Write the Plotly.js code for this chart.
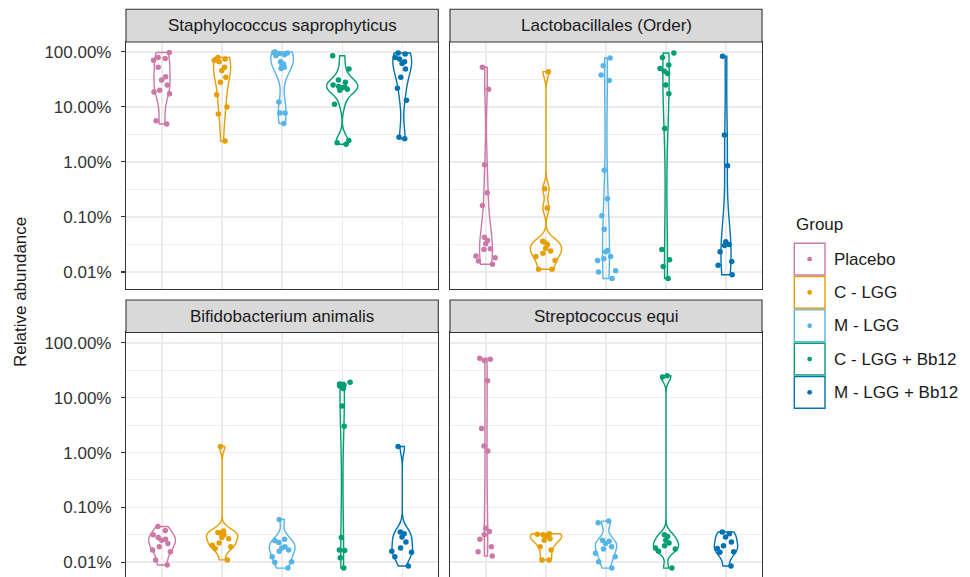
<!DOCTYPE html>
<html><head><meta charset="utf-8">
<script src="https://cdn.plot.ly/plotly-3.0.1.min.js"></script>
<style>html,body{margin:0;padding:0;overflow:hidden;background:#fff}</style>
</head><body><div id="chart" style="width:970px;height:580px"></div>
<script>
// ---------- categories / labels ----------
const groups = ['Placebo', 'C - LGG', 'M - LGG', 'C - LGG + Bb12', 'M - LGG + Bb12'];
const groupColors = ['#CC79A7', '#E69F00', '#56B4E9', '#009E73', '#0072B2'];
const facetTitles = ['Staphylococcus saprophyticus', 'Lactobacillales (Order)', 'Bifidobacterium animalis', 'Streptococcus equi'];
const yTickPercent = [0.01, 0.1, 1, 10, 100];
const yTickLabels = ['0.01%', '0.10%', '1.00%', '10.00%', '100.00%'];

// ---------- relative abundance (%) ----------
// Staphylococcus saprophyticus
const staphPlacebo = [97.7, 79.4, 75.9, 70.8, 52.5, 35.5, 30.9, 25.1, 20.0, 18.6, 17.4, 5.62, 4.90];
const staphCLGG = [79.4, 74.1, 70.8, 66.1, 52.5, 45.7, 34.7, 28.2, 16.6, 10.0, 7.41, 2.40];
const staphMLGG = [100, 97.7, 95.5, 93.3, 89.1, 85.1, 66.1, 60.3, 56.2, 52.5, 50.1, 12.3, 7.76, 7.76, 5.01];
const staphCLGGBb12 = [85.1, 49.0, 30.9, 28.2, 25.1, 23.4, 22.9, 22.4, 20.9, 20.0, 11.2, 2.45, 2.24, 2.09];
const staphMLGGBb12 = [95.5, 91.2, 79.4, 74.1, 66.1, 61.7, 49.0, 34.7, 21.9, 13.2, 2.82, 2.63];
// Lactobacillales (Order)
const lactoPlacebo = [52.5, 20.9, 0.89, 0.275, 0.162, 0.0427, 0.0372, 0.0324, 0.0263, 0.0257, 0.0195, 0.0182, 0.0158, 0.0138];
const lactoCLGG = [43.7, 0.324, 0.145, 0.0363, 0.0347, 0.0316, 0.0269, 0.024, 0.0219, 0.0191, 0.0162, 0.0112, 0.0112];
const lactoMLGG = [77.6, 56.2, 38.0, 30.2, 0.708, 0.214, 0.105, 0.060, 0.0245, 0.0234, 0.0191, 0.0174, 0.0162, 0.0105, 0.0100, 0.0076];
const lactoCLGGBb12 = [95.5, 79.4, 57.5, 50.1, 44.7, 40.7, 25.1, 17.4, 4.07, 0.0257, 0.0166, 0.0126, 0.0076];
const lactoMLGGBb12 = [83.2, 3.09, 0.851, 0.0355, 0.0316, 0.0302, 0.0234, 0.0155, 0.0132, 0.0089];
// Bifidobacterium animalis
const bifidoPlacebo = [0.0447, 0.038, 0.0316, 0.0282, 0.0263, 0.0251, 0.0219, 0.0191, 0.0166, 0.0155, 0.011, 0.0089];
const bifidoCLGG = [1.29, 0.0372, 0.0347, 0.0339, 0.0316, 0.0282, 0.0269, 0.0224, 0.0204, 0.0191, 0.0178, 0.011];
const bifidoMLGG = [0.0603, 0.0263, 0.0245, 0.0229, 0.0191, 0.0182, 0.0166, 0.0158, 0.0126, 0.0102, 0.01, 0.0078];
const bifidoCLGGBb12 = [19.1, 17.8, 17.0, 16.6, 15.8, 14.8, 7.08, 3.02, 0.0282, 0.0166, 0.0164, 0.012, 0.0078];
const bifidoMLGGBb12 = [1.29, 0.0355, 0.0331, 0.0288, 0.0234, 0.0182, 0.0158, 0.0151, 0.0126, 0.0085];
// Streptococcus equi
const strepPlacebo = [52.5, 50.1, 47.9, 20.4, 2.75, 1.32, 1.07, 0.0417, 0.0363, 0.0316, 0.0263, 0.0191, 0.0155, 0.0129];
const strepCLGG = [0.0331, 0.0324, 0.0316, 0.0316, 0.0295, 0.0269, 0.0251, 0.0191, 0.0166, 0.011, 0.011];
const strepMLGG = [0.0562, 0.0525, 0.0251, 0.024, 0.0219, 0.0191, 0.0174, 0.0145, 0.0126, 0.0102, 0.0078];
const strepCLGGBb12 = [25.1, 24.0, 0.0316, 0.0295, 0.0251, 0.0224, 0.02, 0.0182, 0.0174, 0.0158, 0.0078];
const strepMLGGBb12 = [0.0355, 0.0331, 0.0288, 0.0234, 0.02, 0.0178, 0.0155, 0.0151, 0.0085];

const facetData = [
  [staphPlacebo, staphCLGG, staphMLGG, staphCLGGBb12, staphMLGGBb12],
  [lactoPlacebo, lactoCLGG, lactoMLGG, lactoCLGGBb12, lactoMLGGBb12],
  [bifidoPlacebo, bifidoCLGG, bifidoMLGG, bifidoCLGGBb12, bifidoMLGGBb12],
  [strepPlacebo, strepCLGG, strepMLGG, strepCLGGBb12, strepMLGGBb12]
];

// ---------- helpers ----------
const toLog = v => Math.log10(v / 100);
function quantile(sorted, p) {
  const h = (sorted.length - 1) * p, lo = Math.floor(h), hi = Math.ceil(h);
  return sorted[lo] + (h - lo) * (sorted[hi] - sorted[lo]);
}
function nrd0(x) { // R's bw.nrd0
  const n = x.length, m = x.reduce((a, b) => a + b, 0) / n;
  const sd = Math.sqrt(x.reduce((a, b) => a + (b - m) * (b - m), 0) / (n - 1));
  const s = x.slice().sort((a, b) => a - b);
  const iqr = quantile(s, 0.75) - quantile(s, 0.25);
  let lo = Math.min(sd, iqr / 1.34);
  if (!lo) lo = sd || Math.abs(x[0]) || 1;
  return 0.9 * lo * Math.pow(n, -0.2);
}
function maxDensity(x, bw) { // peak of the gaussian KDE over the trimmed span
  const lo = Math.min(...x), hi = Math.max(...x);
  let best = 0;
  for (let k = 0; k <= 512; k++) {
    const t = lo + (hi - lo) * k / 512;
    let s = 0;
    for (const v of x) { const u = (t - v) / bw; s += Math.exp(-0.5 * u * u); }
    best = Math.max(best, s / (x.length * bw * Math.sqrt(2 * Math.PI)));
  }
  return best;
}

// ---------- geometry (pixels of a 970 x 580 canvas) ----------
const W = 970, H = 580;
const px = x => x / W, py = y => (H - y) / H;
const colX = [[126, 438.3], [450, 762]];
const rowY = [[42, 289], [332.5, 580]];
const stripY = [[9.3, 42], [300, 332.5]];
const yRanges = [[-4.31, 0.18], [-4.325, 0.19]];
const maxViolinWidth = 0.52;

const traces = [];
facetData.forEach((panel, p) => {
  const sfx = p === 0 ? '' : String(p + 1);
  const logs = panel.map(vals => vals.map(toLog));
  const bws = logs.map(nrd0);
  const peaks = logs.map((y, g) => maxDensity(y, bws[g]));
  const panelPeak = Math.max(...peaks);
  logs.forEach((y, g) => {
    const xs = y.map(() => groups[g]);
    // outline (ggplot scale = "area": widths proportional to density within the panel)
    traces.push({
      type: 'violin', xaxis: 'x' + sfx, yaxis: 'y' + sfx, x: xs, y: y,
      scalemode: 'width', spanmode: 'hard', bandwidth: bws[g],
      width: maxViolinWidth * peaks[g] / panelPeak,
      points: false, fillcolor: 'rgba(255,255,255,0)',
      line: {color: groupColors[g], width: 1.4},
      showlegend: false, hoverinfo: 'skip'
    });
    // jittered points
    traces.push({
      type: 'violin', xaxis: 'x' + sfx, yaxis: 'y' + sfx, x: xs, y: y,
      scalemode: 'width', spanmode: 'hard', bandwidth: bws[g], width: 0.46,
      points: 'all', pointpos: 0, jitter: 0.9,
      fillcolor: 'rgba(255,255,255,0)', line: {color: 'rgba(0,0,0,0)', width: 0},
      marker: {color: groupColors[g], size: 5.5, line: {width: 0}},
      showlegend: false, hoverinfo: 'skip'
    });
  });
});

const tickVals = yTickPercent.map(toLog);
const minorVals = tickVals.slice(1).map((v, i) => (v + tickVals[i]) / 2);

const layout = {
  width: W, height: H, margin: {l: 0, r: 0, t: 0, b: 0},
  paper_bgcolor: '#fff', plot_bgcolor: '#fff',
  font: {family: 'Liberation Sans, Arial, sans-serif', size: 17, color: '#1A1A1A'},
  violinmode: 'overlay', shapes: [], annotations: []
};

for (let p = 0; p < 4; p++) {
  const r = Math.floor(p / 2), c = p % 2;
  const sfx = p === 0 ? '' : String(p + 1);
  layout['xaxis' + sfx] = {
    domain: [px(colX[c][0]), px(colX[c][1])], anchor: 'y' + sfx,
    type: 'category', categoryorder: 'array', categoryarray: groups,
    range: [-0.6, 4.6], showticklabels: false, ticks: '',
    showgrid: true, gridcolor: '#EBEBEB', gridwidth: 1.4, zeroline: false,
    showline: true, mirror: true, linecolor: '#333333', linewidth: 1.1, fixedrange: true
  };
  layout['yaxis' + sfx] = {
    domain: [py(rowY[r][1]), py(rowY[r][0])], anchor: 'x' + sfx,
    range: yRanges[r], tickmode: 'array', tickvals: tickVals, ticktext: yTickLabels,
    showticklabels: c === 0, ticks: c === 0 ? 'outside' : '', ticklen: 4, tickwidth: 1.1, tickcolor: '#333333',
    ticklabelstandoff: 6,
    tickfont: {size: 17, color: '#333333'},
    showgrid: true, gridcolor: '#EBEBEB', gridwidth: 1.4, zeroline: false,
    minor: {tickmode: 'array', tickvals: minorVals, showgrid: true, gridcolor: '#EBEBEB', gridwidth: 0.8, ticks: ''},
    showline: true, mirror: true, linecolor: '#333333', linewidth: 1.1, fixedrange: true
  };
  layout.shapes.push({
    type: 'rect', xref: 'paper', yref: 'paper',
    x0: px(colX[c][0]), x1: px(colX[c][1]), y0: py(stripY[r][1]), y1: py(stripY[r][0]),
    fillcolor: '#D9D9D9', line: {color: '#333333', width: 1.1}
  });
  layout.annotations.push({
    xref: 'paper', yref: 'paper', showarrow: false,
    x: px((colX[c][0] + colX[c][1]) / 2), y: py((stripY[r][0] + stripY[r][1]) / 2),
    xanchor: 'center', yanchor: 'middle', text: facetTitles[p],
    font: {size: 17, color: '#1A1A1A'}
  });
}

layout.annotations.push({
  xref: 'paper', yref: 'paper', showarrow: false, x: px(20), y: py(292),
  xanchor: 'center', yanchor: 'middle', textangle: -90, text: 'Relative abundance',
  font: {size: 17, color: '#1A1A1A'}
});

const legX0 = 794.3, legY0 = 243.3, keyW = 30.7, keyH = 31.7, pitch = 33.3;
layout.annotations.push({
  xref: 'paper', yref: 'paper', showarrow: false, x: px(794), y: py(224),
  xanchor: 'left', yanchor: 'middle', text: 'Group', font: {size: 17, color: '#1A1A1A'}
});
groups.forEach((g, i) => {
  const y0 = legY0 + i * pitch;
  layout.shapes.push({
    type: 'rect', xref: 'paper', yref: 'paper',
    x0: px(legX0), x1: px(legX0 + keyW), y0: py(y0 + keyH), y1: py(y0),
    fillcolor: '#fff', line: {color: groupColors[i], width: 1.4}
  });
  const cx = legX0 + keyW / 2, cy = y0 + keyH / 2, rr = 2.4;
  layout.shapes.push({
    type: 'circle', xref: 'paper', yref: 'paper',
    x0: px(cx - rr), x1: px(cx + rr), y0: py(cy + rr), y1: py(cy - rr),
    fillcolor: groupColors[i], line: {width: 0}
  });
  layout.annotations.push({
    xref: 'paper', yref: 'paper', showarrow: false, x: px(832), y: py(cy),
    xanchor: 'left', yanchor: 'middle', text: g, font: {size: 17, color: '#1A1A1A'}
  });
});

Plotly.newPlot('chart', traces, layout, {staticPlot: true, displayModeBar: false});
</script></body></html>
